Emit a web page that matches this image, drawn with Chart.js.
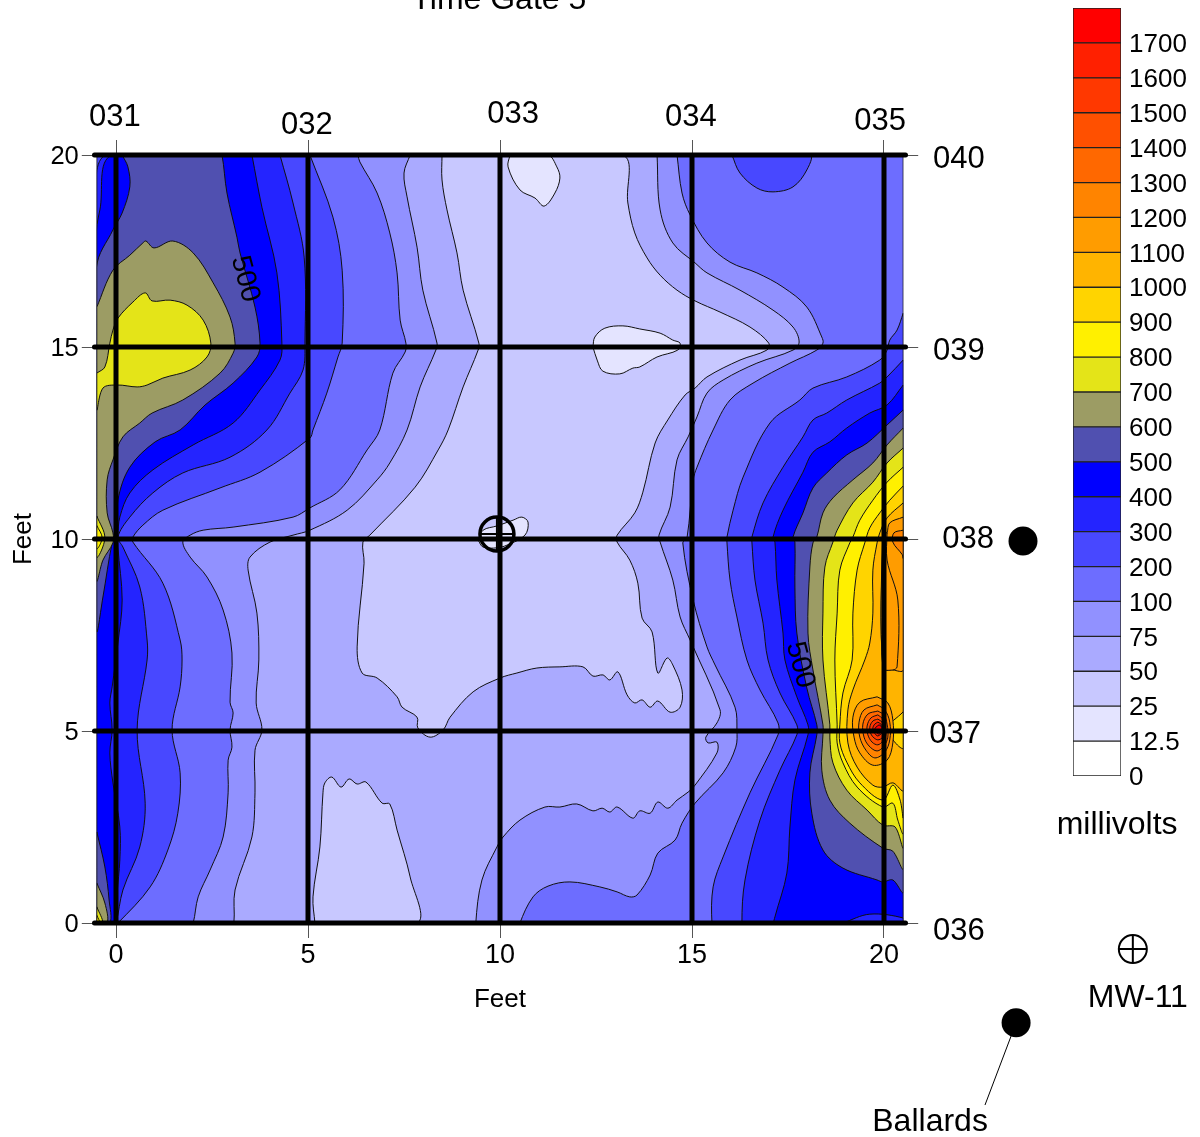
<!DOCTYPE html>
<html><head><meta charset="utf-8">
<style>html,body{margin:0;padding:0;background:#fff;overflow:hidden}
#c,#o{position:absolute;left:0;top:0}#k{position:absolute;left:1050px;top:0}</style>
<script src="https://cdn.jsdelivr.net/npm/chart.js@4/dist/chart.umd.min.js"></script>
</head><body>
<canvas id="c" width="1200" height="1137"></canvas>
<canvas id="k" width="150" height="800"></canvas>
<canvas id="o" width="1200" height="1137"></canvas>
<script>
/* colour key */
const keyLabels=['0','12.5','25','50','75','100','200','300','400','500','600','700','800','900','1000','1100','1200','1300','1400','1500','1600','1700'];
const keyColors=['#FFFFFF','#E4E4FF','#C8C8FF','#AAAAFF','#9191FF','#6D6DFF','#4848FF','#2424FF','#0000FF','#5050B0','#9C9C64','#E4E418','#FFF000','#FFD400','#FFB400','#FF9C00','#FF8400','#FF6800','#FF5000','#FF3800','#FF2000','#FF0000'];
const keyCell=[1,1,1,1,1,1,1,1,1,1,1,1,1,1,1,1,1,1,1,1,1,1];
/* axes */
const axisTicks=[0,5,10,15,20];
const gridXs=[0,5,10,15,20];
const gridYs=[0,5,10,15,20];
/* contours in feet */
const frame=[[-.5,0],[20.5,0],[20.5,20],[-.5,20]];
const below50Top=[[8.49,20],[8.49,19.35],[8.62,18.57],[8.88,17.45],[9.04,16.48],[9.45,15.10],[9.43,14.92],[9.04,13.96],[8.65,12.84],[8.39,12.32],[7.79,11.35],[6.61,10.10],[6.43,9.92],[6.46,9.37],[6.28,7.19],[6.41,6.51],[6.80,6.38],[7.32,5.89],[7.45,5.62],[7.84,5.36],[7.86,5.08],[8.18,4.84],[8.52,5.03],[8.70,5.36],[9.30,6.02],[10,6.38],[10.44,6.51],[10.96,6.64],[11.56,6.67],[12.16,6.67],[12.42,6.43],[12.68,6.46],[12.86,6.33],[13.07,6.54],[13.31,5.94],[13.51,5.73],[13.70,5.81],[13.91,5.62],[14.11,5.78],[14.43,5.49],[14.69,5.62],[14.74,6.07],[14.50,6.72],[14.35,6.90],[14.11,6.51],[13.96,7.58],[13.70,7.94],[13.59,8.85],[13.38,9.45],[13.05,9.92],[13.05,10.10],[13.51,10.68],[13.72,11.22],[14.04,12.50],[14.37,13.10],[14.82,13.75],[15.08,13.93],[15.39,14.22],[16.25,14.66],[16.95,14.92],[17,15.10],[16.51,15.52],[15.73,15.91],[15.08,16.20],[14.61,16.48],[14.17,16.87],[13.83,17.32],[13.51,17.97],[13.33,18.75],[13.18,20]];
const below50Bottom=[[5.18,0],[5.13,.68],[5.31,1.98],[5.39,3.39],[5.44,3.65],[5.62,3.80],[5.86,3.54],[6.07,3.75],[6.28,3.62],[6.51,3.67],[6.93,3.12],[7.13,3.10],[7.32,2.42],[7.66,1.20],[7.84,0]];
const below25Top=[[10.26,20],[10.21,19.69],[10.52,19.09],[10.91,18.88],[11.15,18.67],[11.43,19.01],[11.56,19.40],[11.48,19.69],[11.25,20]];
const below25Mid=[[12.42,15],[12.47,15.26],[12.73,15.49],[13.20,15.55],[13.64,15.47],[14.17,15.36],[14.50,15.18],[14.69,15.10],[14.63,14.92],[14.09,14.74],[13.64,14.48],[13.46,14.45],[13.12,14.30],[12.68,14.37],[12.53,14.66]];
const below25Well=[[9.43,9.97],[9.56,10.23],[9.92,10.34],[10.34,10.49],[10.57,10.57],[10.73,10.44],[10.65,10.10],[10.18,9.84],[9.92,9.77],[9.56,9.79]];
const above75L=[[7.66,20],[7.50,19.53],[7.58,18.91],[7.84,17.60],[7.99,16.48],[8.36,15.10],[8.33,14.92],[7.92,13.96],[7.58,12.84],[7.13,11.98],[6.80,11.54],[6.02,10.75],[5.05,10.23],[4.61,10.10],[4.01,9.92],[3.49,9.53],[3.44,9.19],[3.67,8.07],[3.72,6.85],[3.65,5.73],[3.80,5.03],[3.62,4.50],[3.62,3.39],[3.54,2.24],[3.10,.86],[3.07,0],[3.00,0],[-.5,0],[-.5,20]];
const above75R=[[14.09,20],[14.17,18.57],[14.50,17.71],[15.08,17.19],[15.39,16.93],[16.25,16.48],[17.11,15.96],[17.63,15.52],[17.79,15.13],[17.63,14.92],[16.69,14.58],[15.81,14.14],[15.39,13.80],[15.13,13.18],[14.90,12.66],[14.61,12.06],[14.43,10.83],[14.14,10.10],[14.17,9.92],[14.50,8.93],[14.69,7.97],[14.95,7.37],[15.73,5.55],[15.65,5.21],[15.36,4.84],[15.42,4.69],[15.65,4.71],[15.65,4.43],[15.08,3.59],[14.90,3.41],[14.61,3.20],[14.37,2.99],[14.11,3.15],[13.91,2.86],[13.64,2.92],[13.46,2.73],[13.05,3.02],[12.86,2.89],[12.66,2.99],[12.42,2.92],[12,3.10],[11.56,3.02],[11.17,3.02],[10.52,2.68],[10.08,2.24],[9.92,1.98],[9.53,1.12],[9.37,0],[9.45,0],[20.5,0],[20.5,20]];
const above100L=[[6.30,20],[6.35,19.82],[6.80,19.01],[7.13,17.97],[7.32,16.93],[7.40,15.70],[7.55,15.10],[7.53,14.87],[7.21,14.32],[6.87,12.84],[6.54,12.32],[5.83,11.28],[5.05,10.81],[4.61,10.57],[3.05,10.31],[2.27,10.23],[1.93,10.10],[1.74,9.92],[1.93,9.53],[2.37,9.01],[2.79,8.15],[3.02,7.03],[2.97,5.75],[3.05,5.47],[2.97,5.03],[3.02,4.58],[2.92,4.24],[2.92,3.39],[2.79,2.24],[2.45,1.38],[2.14,.68],[2.01,0],[1.95,0],[-.5,0],[-.5,20]];
const above100R=[[14.61,20],[14.74,19.01],[14.95,18.44],[15.39,17.71],[15.99,17.21],[16.69,16.93],[17.37,16.56],[17.99,16.04],[18.38,15.26],[18.41,15.10],[18.25,14.92],[17.55,14.58],[16.59,14.06],[15.99,13.62],[15.55,12.84],[15.13,11.87],[15.03,11.54],[14.87,10.03],[14.76,9.90],[15.03,8.41],[15.39,7.19],[15.60,6.72],[16.12,5.62],[16.17,5.03],[16.14,4.58],[15.81,3.91],[15.08,3.12],[14.74,2.60],[14.56,2.16],[14.11,1.82],[13.91,1.25],[13.57,.73],[13.38,.68],[13.05,.81],[12.60,.94],[11.82,1.07],[11.25,.96],[10.86,.68],[10.52,0],[10.60,0],[20.5,0],[20.5,20]];
const above200L=[[5.05,20],[5.65,18.38],[5.89,17],[5.89,15.10],[5.78,14.74],[5.49,13.80],[5.13,12.84],[5.05,12.63],[3.75,11.74],[2.71,11.33],[1.22,10.75],[.70,10.36],[.44,10.05],[.44,9.92],[1.22,8.85],[1.67,7.37],[1.72,6.85],[1.67,6.15],[1.46,5.03],[1.67,3.91],[1.61,2.86],[1.35,1.90],[.89,.94],[.05,0],[-.02,0],[-.5,0],[-.5,20]];
const above200Top=[[16.04,20],[16.25,19.53],[16.69,19.14],[17.11,19.04],[17.63,19.17],[17.99,19.61],[18.07,20]];
const above200R=[[20.5,15.88],[20.34,15.44],[20.15,15.18],[20.08,14.92],[19.89,14.66],[19.03,14.22],[18.15,13.93],[17.81,13.62],[17.03,13.02],[16.33,11.61],[16.07,10.75],[15.91,10.05],[15.91,9.92],[15.99,8.93],[16.17,7.97],[16.43,6.85],[16.77,6.07],[17.24,5.21],[17.24,4.90],[16.51,3.39],[15.81,1.72],[15.55,.94],[15.52,0],[15.60,0],[20.5,0]];
const above300L=[[4.27,20],[4.61,18.75],[4.90,17.34],[4.92,15.10],[4.87,14.40],[4.53,13.80],[3.93,12.84],[2.97,12.13],[1.74,11.72],[.96,11.20],[.36,10.57],[.05,10.05],[.18,9.79],[.62,8.75],[.81,7.37],[.81,6.85],[.55,5.03],[.76,3.12],[.62,1.98],[.18,.86],[0,0],[-.07,0],[-.5,0],[-.5,19.53],[-.23,20]];
const above300R=[[20.5,14.66],[20.08,14.22],[19.89,14.06],[19.03,13.62],[18.51,13.28],[18.15,13.10],[17.89,12.66],[17.37,11.87],[16.85,10.94],[16.56,10.05],[16.56,9.92],[16.64,8.93],[16.85,7.81],[16.98,6.85],[17.29,5.99],[17.73,5.16],[17.73,4.90],[17.29,3.98],[16.77,2.68],[16.38,1.12],[16.30,0],[16.38,0],[20.5,0]];
const above400L=[[3.54,20],[3.80,18.64],[4.19,16.93],[4.32,15.10],[4.27,14.66],[3.75,13.88],[3.05,13.02],[2.01,12.45],[.96,11.80],[.36,11.20],[.10,10.57],[.05,10.10],[.05,9.79],[.16,8.41],[.05,7.29],[-.10,6.15],[-.16,5.73],[-.10,5.03],[-.16,4.43],[-.08,3.65],[.10,2.50],[.10,1.64],[.03,.78],[0,0],[-.07,0],[-.5,0],[-.5,18.05],[-.42,18.57],[-.10,20]];
const above400R=[[20.5,14.01],[20.08,13.49],[19.63,13.28],[19.03,12.89],[18.59,12.53],[18.15,12.26],[17.89,11.74],[17.37,10.75],[17.11,10.05],[17.16,9.92],[17.21,8.93],[17.37,7.55],[17.42,6.85],[17.73,5.89],[18.02,5.16],[18.02,4.90],[17.68,3.72],[17.55,2.50],[17.47,1.30],[17.16,.16],[17.13,0],[17.20,0],[20.5,0]];
const dip400=[[18.93,0],[19.63,.23],[20.5,.13],[20.5,0]];
const above500L=[[.16,20],[2.70,20],[2.76,20],[2.89,19.01],[3.15,17.86],[3.23,17.45],[3.62,16.04],[3.75,15.10],[3.67,14.74],[3.05,14.06],[2.32,13.49],[1.67,12.84],[1.02,12.53],[.36,11.87],[.05,11.02],[0,10.10],[-.10,9.90],[-.34,8.49],[-.5,7.63],[-.5,17.08],[-.08,18.05],[.16,18.49],[.36,19.17],[.31,19.69]];
const above500Corner=[[-.5,2.37],[-.29,1.46],[-.18,.60],[-.16,0],[-.5,0]];
const above500R=[[20.5,13.36],[20.08,12.97],[19.56,12.50],[19.03,12.19],[18.51,11.72],[18.15,11.33],[17.89,10.68],[17.63,10.05],[17.68,9.92],[17.68,8.75],[17.73,7.55],[17.99,6.12],[18.25,5.16],[18.25,4.90],[18.07,3.91],[18.12,2.86],[18.41,1.90],[18.93,1.43],[19.82,1.12],[19.97,1.07],[20.23,1.12],[20.5,.81]];
const above600L=[[-.5,16.04],[-.08,17],[.36,17.39],[.70,17.71],[.78,17.76],[.99,17.58],[1.48,17.76],[2.01,17.45],[2.53,16.67],[2.97,15.78],[3.10,15.10],[3.05,14.84],[2.71,14.32],[1.74,13.62],[.94,13.28],[.62,13.02],[.18,12.66],[-.08,12.06],[-.23,11.54],[-.23,10.68],[-.08,10.16],[-.08,9.90],[-.34,9.45],[-.5,8.93]];
const above600Corner=[[-.5,1.04],[-.29,.52],[-.23,0],[-.5,0]];
const above600R=[[20.5,12.89],[20.08,12.45],[19.71,11.98],[19.19,11.54],[18.67,11.07],[18.41,10.68],[18.25,10.05],[18.15,9.90],[18.07,9.27],[18.02,7.55],[18.15,6.59],[18.41,5.16],[18.41,4.90],[18.38,3.98],[18.59,3.20],[19.11,2.60],[19.97,1.95],[20.23,1.87],[20.5,1.43]];
const above700L=[[-.5,14.32],[-.29,14.48],[-.16,15.10],[-.08,15.44],[.05,15.75],[.44,16.17],[.76,16.41],[.94,16.20],[1.41,16.22],[1.85,16.09],[2.27,15.70],[2.47,15.10],[2.37,14.74],[1.93,14.40],[1.22,14.19],[.81,14.01],[.55,13.96],[.03,14.01],[-.34,13.93],[-.5,13.36]];
const above700Mid=[[-.5,10.60],[-.29,10.03],[-.5,9.53]];
const above700Corner=[[-.5,.42],[-.34,0],[-.5,0]];
const above700R=[[20.5,12.37],[20.08,11.98],[19.71,11.48],[19.19,10.94],[18.78,10.23],[18.67,9.92],[18.46,9.27],[18.41,8.07],[18.41,6.85],[18.59,5.16],[18.59,4.82],[18.67,4.17],[19.03,3.46],[19.56,2.94],[19.97,2.55],[20.29,2.50],[20.5,1.98]];
const above800Mid=[[-.5,10.35],[-.36,10.03],[-.5,9.75]];
const above800Corner=[[-.5,.2],[-.42,0],[-.5,0]];
const above800R=[[20.5,11.87],[20.08,11.48],[19.71,11.01],[19.37,10.49],[19.19,10.05],[19.11,9.90],[18.85,9.19],[18.78,8.07],[18.72,6.85],[18.78,5.16],[18.78,4.69],[18.93,4.17],[19.30,3.54],[19.97,3.02],[20.23,3.12],[20.36,2.68],[20.5,2.34]];
const above900R=[[20.5,11.38],[20.15,11.01],[19.89,10.68],[19.63,10.29],[19.50,9.90],[19.30,9.19],[19.19,8.07],[19.17,6.85],[18.93,5.99],[18.85,5.16],[18.85,4.69],[19.03,4.19],[19.37,3.65],[19.97,3.20],[20.23,3.59],[20.42,3.20],[20.5,2.76]];
const above1000R=[[20.5,10.94],[20.08,10.55],[19.89,10.16],[19.82,9.90],[19.71,9.19],[19.71,8.07],[19.63,7.29],[19.50,6.85],[19.19,6.07],[19.06,5.55],[19.06,4.69],[19.30,4.06],[19.71,3.59],[19.97,3.54],[20.23,3.65],[20.5,3.46]];
const dipRight=[[20.5,5.5],[20.1,5.05],[20.5,4.55]];
const above1100Strip=[[20.5,10.57],[20.15,10.42],[20.08,10.16],[19.97,9.9],[19.97,6.64],[20.23,6.59],[20.5,6.59]];
const strip1100Inner=[[20.08,10.16],[20.08,9.45],[20.36,8.41],[20.34,6.67],[20.23,6.59],[19.97,6.64],[19.97,10.16]];
const above1200Pocket=[[20.5,10.23],[20.26,10.16],[20.23,9.92],[20.47,9.6],[20.5,9.5]];
const ring1100=[[19.82,5.89],[19.37,5.75],[19.19,5.36],[19.22,4.84],[19.37,4.43],[19.71,4.11],[20.08,4.24],[20.23,4.69],[20.23,5.29],[20.10,5.73]];
const ring1200=[[19.82,5.68],[19.48,5.55],[19.35,5.23],[19.37,4.84],[19.53,4.50],[19.76,4.30],[20.02,4.45],[20.15,4.77],[20.15,5.23],[20.02,5.55]];
const ring1300=[[19.84,5.52],[19.58,5.44],[19.45,5.18],[19.48,4.84],[19.61,4.61],[19.82,4.48],[20,4.61],[20.10,4.84],[20.08,5.18],[20,5.42]];
const ring1400=[[19.84,5.42],[19.66,5.34],[19.56,5.13],[19.58,4.90],[19.69,4.71],[19.84,4.64],[19.97,4.74],[20.05,4.90],[20.02,5.13],[19.97,5.31]];
const ring1500=[[19.84,5.31],[19.71,5.26],[19.63,5.10],[19.66,4.92],[19.74,4.82],[19.84,4.77],[19.95,4.82],[20,4.95],[20,5.10],[19.95,5.23]];
const ring1600=[[19.84,5.23],[19.76,5.18],[19.71,5.08],[19.74,4.97],[19.79,4.90],[19.84,4.87],[19.92,4.92],[19.95,4.97],[19.95,5.10],[19.92,5.18]];
const ring1700=[[19.87,5.16],[19.79,5.10],[19.76,5.05],[19.79,4.97],[19.87,4.92],[19.92,4.97],[19.95,5.05],[19.92,5.13]];
/* map furniture, in feet */
const ballardDots=[[23.62,9.95],[23.44,-2.60]];
const ballardLeader=[[23.44,-2.60],[22.63,-4.74]];
const wellSpot=[[9.92,10.13]];
const wellKey=[[26.48,-.68]];
const mapTexts=[
['Time Gate 5',9.97,24.10,32,0],
['031',-.03,21.04,31,0],['032',4.97,20.83,31,0],['033',10.34,21.12,31,0],['034',14.97,21.04,31,0],['035',19.90,20.94,31,0],
['040',21.95,19.95,31,0],['039',21.95,14.95,31,0],['038',22.19,10.05,31,0],['037',21.85,4.97,31,0],['036',21.95,-.16,31,0],
['millivolts',26.07,2.60,32,0],['MW-11',26.61,-1.90,32,0],['Ballards',21.20,-5.13,32,0],
['500',3.36,16.77,28,75],['500',17.81,6.72,28,75]];

const layers=[
[frame,3],[below50Top,2],[below50Bottom,2],[below25Top,1],[below25Mid,1],[below25Well,1],
[above75L,4],[above75R,4],[above100L,5],[above100R,5],[above200L,6],[above200Top,6],[above200R,6],
[above300L,7],[above300R,7],[above400L,8],[above400R,8],[dip400,7],
[above500L,9],[above500Corner,9],[above500R,9],[above600L,10],[above600Corner,10],[above600R,10],
[above700L,11],[above700Mid,11],[above700Corner,11],[above700R,11],[above800Mid,12],[above800Corner,12],[above800R,12],
[above900R,13],[above1000R,14],[dipRight,13],[above1100Strip,15],[strip1100Inner,15],[above1200Pocket,16],
[ring1100,15],[ring1200,16],[ring1300,17],[ring1400,18],[ring1500,19],[ring1600,20],[ring1700,21]];

Chart.defaults.font.family='"Liberation Sans"';
Chart.defaults.color='#000';
const pts=a=>a.map(p=>({x:p[0],y:p[1]}));
const ds=[];
layers.forEach(([poly,ci])=>{
  ds.push({type:'scatter',showLine:true,data:pts(poly.concat([poly[0]])),fill:'shape',backgroundColor:keyColors[ci],
    borderColor:'#111',borderWidth:1,pointRadius:0,tension:0.35});
});
gridXs.forEach(v=>ds.push({type:'scatter',showLine:true,data:[{x:v,y:0},{x:v,y:20}],borderColor:'#000',borderWidth:5,pointRadius:0,fill:false,clip:false}));
gridYs.forEach(v=>ds.push({type:'scatter',showLine:true,data:[{x:-.56,y:v},{x:20.56,y:v}],borderColor:'#000',borderWidth:5,borderCapStyle:'round',pointRadius:0,fill:false,clip:false}));
ds.forEach((d,i)=>{d.order=ds.length-i;});

const ov=[];
ov.push({data:pts(wellSpot),pointStyle:'circle',pointRadius:17,backgroundColor:'rgba(0,0,0,0)',borderColor:'#000',borderWidth:3.5});
ov.push({data:pts(wellSpot),pointStyle:'cross',pointRadius:17,borderColor:'#000',borderWidth:2});
ov.push({data:pts(wellKey),pointStyle:'circle',pointRadius:14,backgroundColor:'rgba(0,0,0,0)',borderColor:'#000',borderWidth:2});
ov.push({data:pts(wellKey),pointStyle:'cross',pointRadius:14,borderColor:'#000',borderWidth:2});
ov.push({data:pts(ballardDots),pointStyle:'circle',pointRadius:14.5,backgroundColor:'#000',borderColor:'#000',borderWidth:0});
ov.push({showLine:true,data:pts(ballardLeader),borderColor:'#000',borderWidth:1,pointRadius:0,fill:false});

const textPlugin={id:'mapTexts',afterDatasetsDraw(chart){
  const c=chart.ctx,X=chart.scales.x,Y=chart.scales.y;
  mapTexts.forEach(([t,x,y,size,rot])=>{
    c.save();c.translate(X.getPixelForValue(x),Y.getPixelForValue(y));
    if(rot)c.rotate(rot*Math.PI/180);
    c.font=size+'px "Liberation Sans"';c.fillStyle='#000';c.textAlign='center';c.textBaseline='middle';
    c.fillText(t,0,rot?0:2.5);c.restore();
  });
}};
const fixedTicks=s=>{s.ticks=axisTicks.map(v=>({value:v}));};
const hAxis=(pos,h,show)=>({type:'linear',position:pos,min:-.5,max:20.5,afterBuildTicks:fixedTicks,afterFit:s=>{s.height=h;},
  border:{display:false},grid:{drawOnChartArea:false,drawTicks:true,tickLength:15,tickColor:'#555',tickWidth:1},
  ticks:{display:show,padding:1,font:{size:27},maxRotation:0,autoSkip:false},
  title:show?{display:true,text:'Feet',font:{size:26},padding:{top:0,bottom:-2}}:{display:false}});
const vAxis=(pos,w,show)=>({type:'linear',position:pos,min:0,max:20,afterBuildTicks:fixedTicks,afterFit:s=>{s.width=w;},
  border:{display:false},grid:{drawOnChartArea:false,drawTicks:true,tickLength:15,tickColor:'#555',tickWidth:1},
  ticks:{display:show,padding:3,labelOffset:2,font:{size:25.5},autoSkip:false},
  title:show?{display:true,text:'Feet',font:{size:26},padding:{top:8,bottom:0}}:{display:false}});
new Chart(document.getElementById('c'),{type:'scatter',data:{datasets:ds},options:{
  responsive:false,animation:false,devicePixelRatio:1,
  layout:{padding:{left:0,top:140,right:281.8,bottom:124}},
  plugins:{legend:{display:false},tooltip:{enabled:false},title:{display:false}},
  scales:{x:hAxis('bottom',90,true),x2:hAxis('top',15,false),y:vAxis('left',96.8,true),y2:vAxis('right',15,false)}
}});
new Chart(document.getElementById('k'),{type:'bar',data:{labels:['millivolts'],datasets:keyCell.map((v,i)=>({data:[v],backgroundColor:keyColors[i],borderColor:'#222',borderWidth:1,borderSkipped:false,barPercentage:1,categoryPercentage:1}))},options:{
  responsive:false,animation:false,devicePixelRatio:1,
  layout:{padding:{left:23,top:8,right:0,bottom:24}},
  plugins:{legend:{display:false},tooltip:{enabled:false}},
  scales:{
    x:{stacked:true,display:false},
    y:{stacked:true,position:'right',min:0,max:22,afterFit:s=>{s.width=79;s.paddingTop=0;s.paddingBottom=0;},border:{display:false},grid:{display:false,drawTicks:false},
       ticks:{stepSize:1,autoSkip:false,padding:8,labelOffset:2,font:{size:26},callback:v=>keyLabels[v]===undefined?'':keyLabels[v]}}
  }
}});
/* full-page layer: same feet, scales spanning the whole page, for marks and labels outside the plot */
new Chart(document.getElementById('o'),{type:'scatter',data:{datasets:ov},plugins:[textPlugin],options:{
  responsive:false,animation:false,devicePixelRatio:1,
  layout:{padding:0,autoPadding:false},
  plugins:{legend:{display:false},tooltip:{enabled:false}},
  scales:{x:{type:'linear',display:false,bounds:'data',min:-3.0208,max:28.2292},y:{type:'linear',display:false,bounds:'data',min:-5.5729,max:24.0365}}
}});
</script>
</body></html>
